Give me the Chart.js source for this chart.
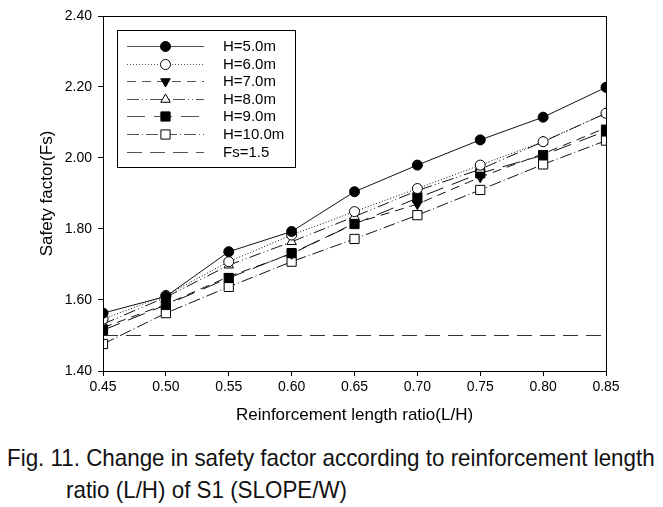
<!DOCTYPE html>
<html>
<head>
<meta charset="utf-8">
<script src="https://cdn.jsdelivr.net/npm/chart.js@4"></script>
<style>
  html, body { margin: 0; padding: 0; background: #fff; }
  #wrap { position: relative; width: 663px; height: 507px; overflow: hidden; }
  #chartBox { position: absolute; left: 0; top: 0; width: 663px; height: 430px; }
  .cap { position: absolute; font-family: "Liberation Sans", Arial, sans-serif;
         font-size: 24px; color: #111; white-space: nowrap; transform-origin: 0 0; }
</style>
</head>
<body>
<div id="wrap">
  <div id="chartBox"><canvas id="chart" width="663" height="430"></canvas></div>
  <div class="cap" id="cap1" style="left:7px; top:444px;">Fig. 11. Change in safety factor according to reinforcement length</div>
  <div class="cap" id="cap2" style="left:66px; top:476px;">ratio (L/H) of S1 (SLOPE/W)</div>
</div>
<script>
// values
const ratios = [0.45, 0.50, 0.55, 0.60, 0.65, 0.70, 0.75, 0.80, 0.85];
const h50 = [1.563, 1.610, 1.736, 1.793, 1.905, 1.980, 2.051, 2.115, 2.199];
const h60 = [1.546, 1.613, 1.708, 1.783, 1.849, 1.914, 1.980, 2.046, 2.126];
const h70 = [1.522, 1.588, 1.666, 1.730, 1.816, 1.870, 1.946, 2.012, 2.085];
const h80 = [1.532, 1.608, 1.698, 1.764, 1.835, 1.908, 1.968, 2.046, 2.126];
const h90 = [1.515, 1.586, 1.662, 1.732, 1.814, 1.887, 1.957, 2.008, 2.076];
const h100 = [1.476, 1.563, 1.637, 1.708, 1.772, 1.839, 1.910, 1.982, 2.049];
const fsLimit = 1.5;
const seriesLabels = ["H=5.0m", "H=6.0m", "H=7.0m", "H=8.0m", "H=9.0m", "H=10.0m", "Fs=1.5"];

const toPts = arr => arr.map((v, i) => ({ x: ratios[i], y: v }));

function series(label, data, dash, style, filled, rot) {
  let r = 5;
  if (style === "rect") r = 6.5;
  if (style === "triangle") r = 5.5;
  return {
    label: label,
    data: toPts(data),
    borderColor: "#111",
    borderWidth: 1,
    borderDash: dash,
    pointStyle: style,
    pointRotation: rot || 0,
    pointRadius: r,
    pointBackgroundColor: filled ? "#000" : "#fff",
    pointBorderColor: "#000",
    pointBorderWidth: 1,
    fill: false,
    tension: 0
  };
}

const datasets = [
  series(seriesLabels[0], h50, [], "circle", true),
  series(seriesLabels[1], h60, [1, 2], "circle", false),
  series(seriesLabels[2], h70, [9, 6], "triangle", true, 180),
  series(seriesLabels[3], h80, [12, 3, 1, 3, 1, 3], "triangle", false),
  series(seriesLabels[4], h90, [18, 9], "rect", true),
  series(seriesLabels[5], h100, [12, 3, 1, 3], "rect", false),
  {
    label: seriesLabels[6],
    data: [{ x: ratios[0], y: fsLimit }, { x: ratios[ratios.length - 1] - 0.003, y: fsLimit }],
    borderColor: "#333",
    borderWidth: 1,
    borderDash: [15, 8],
    pointRadius: 0,
    fill: false
  }
];

function drawMarker(ctx, ds, x, y) {
  ctx.save();
  ctx.fillStyle = ds.pointBackgroundColor;
  ctx.strokeStyle = "#000";
  ctx.lineWidth = 1;
  ctx.setLineDash([]);
  Chart.helpers.drawPoint(ctx, {
    pointStyle: ds.pointStyle,
    rotation: ds.pointRotation,
    radius: ds.pointRadius,
    borderWidth: 1
  }, x, y);
  ctx.restore();
}

// frame around plot + legend box drawn inside the plot area
const framePlugin = {
  id: "frame",
  afterDraw(chart) {
    const ctx = chart.ctx;
    const a = chart.chartArea;
    ctx.save();
    ctx.strokeStyle = "#000";
    ctx.lineWidth = 1;
    ctx.setLineDash([]);
    ctx.strokeRect(Math.round(a.left) + 0.5, Math.round(a.top) + 0.5, Math.round(a.right - a.left), Math.round(a.bottom - a.top));

    // legend
    const bx = a.left + 14, by = a.top + 14, bw = 178, bh = 137;
    ctx.strokeRect(Math.round(bx) + 0.5, Math.round(by) + 0.5, bw, bh);
    ctx.font = "15px 'Liberation Sans', Arial, sans-serif";
    ctx.textBaseline = "middle";
    chart.data.datasets.forEach((ds, i) => {
      const y = Math.round(by + 16 + i * 17.6) + 0.5;
      const x0 = bx + 10, x1 = bx + 87, xm = (x0 + x1) / 2;
      ctx.strokeStyle = "#555";
      ctx.setLineDash(ds.borderDash || []);
      ctx.beginPath();
      ctx.moveTo(x0, y);
      ctx.lineTo(x1, y);
      ctx.stroke();
      ctx.setLineDash([]);
      if (ds.pointRadius > 0) drawMarker(ctx, ds, xm, y);
      ctx.fillStyle = "#000";
      ctx.fillText(ds.label, bx + 106, y);
    });
    ctx.restore();
  }
};

const axisFont = "'Liberation Sans', Arial, sans-serif";

new Chart(document.getElementById("chart"), {
  type: "line",
  data: { datasets: datasets },
  plugins: [framePlugin],
  options: {
    responsive: false,
    animation: false,
    layout: { padding: { left: 33, top: 16, right: 57, bottom: 0 } },
    plugins: { legend: { display: false }, tooltip: { enabled: false } },
    scales: {
      x: {
        type: "linear",
        min: 0.45,
        max: 0.85,
        afterFit(scale) { scale.height = 59; },
        afterBuildTicks(scale) { scale.ticks = ratios.map(v => ({ value: v })); },
        ticks: {
          color: "#000",
          font: { family: axisFont, size: 14 },
          padding: 3,
          maxRotation: 0,
          callback: v => v.toFixed(2)
        },
        grid: { drawOnChartArea: false, tickLength: 5, color: "#000" },
        border: { color: "#000" },
        title: {
          display: true,
          text: "Reinforcement length ratio(L/H)",
          color: "#000",
          font: { family: axisFont, size: 17 },
          padding: { top: 6 }
        }
      },
      y: {
        min: 1.4,
        max: 2.4,
        afterFit(scale) { scale.width = 70; },
        ticks: {
          stepSize: 0.2,
          color: "#000",
          font: { family: axisFont, size: 14 },
          padding: 6,
          callback: v => v.toFixed(2)
        },
        grid: { drawOnChartArea: false, tickLength: 5, color: "#000" },
        border: { color: "#000" },
        title: {
          display: true,
          text: "Safety factor(Fs)",
          color: "#000",
          font: { family: axisFont, size: 17 },
          padding: { bottom: 0 }
        }
      }
    }
  }
});

// squeeze the caption to the narrow face of the original
const cap1 = document.getElementById("cap1");
const cap2 = document.getElementById("cap2");
const k = 648 / cap1.offsetWidth;
cap1.style.transform = "scaleX(" + k + ")";
cap2.style.transform = "scaleX(" + k + ")";
</script>
</body>
</html>
